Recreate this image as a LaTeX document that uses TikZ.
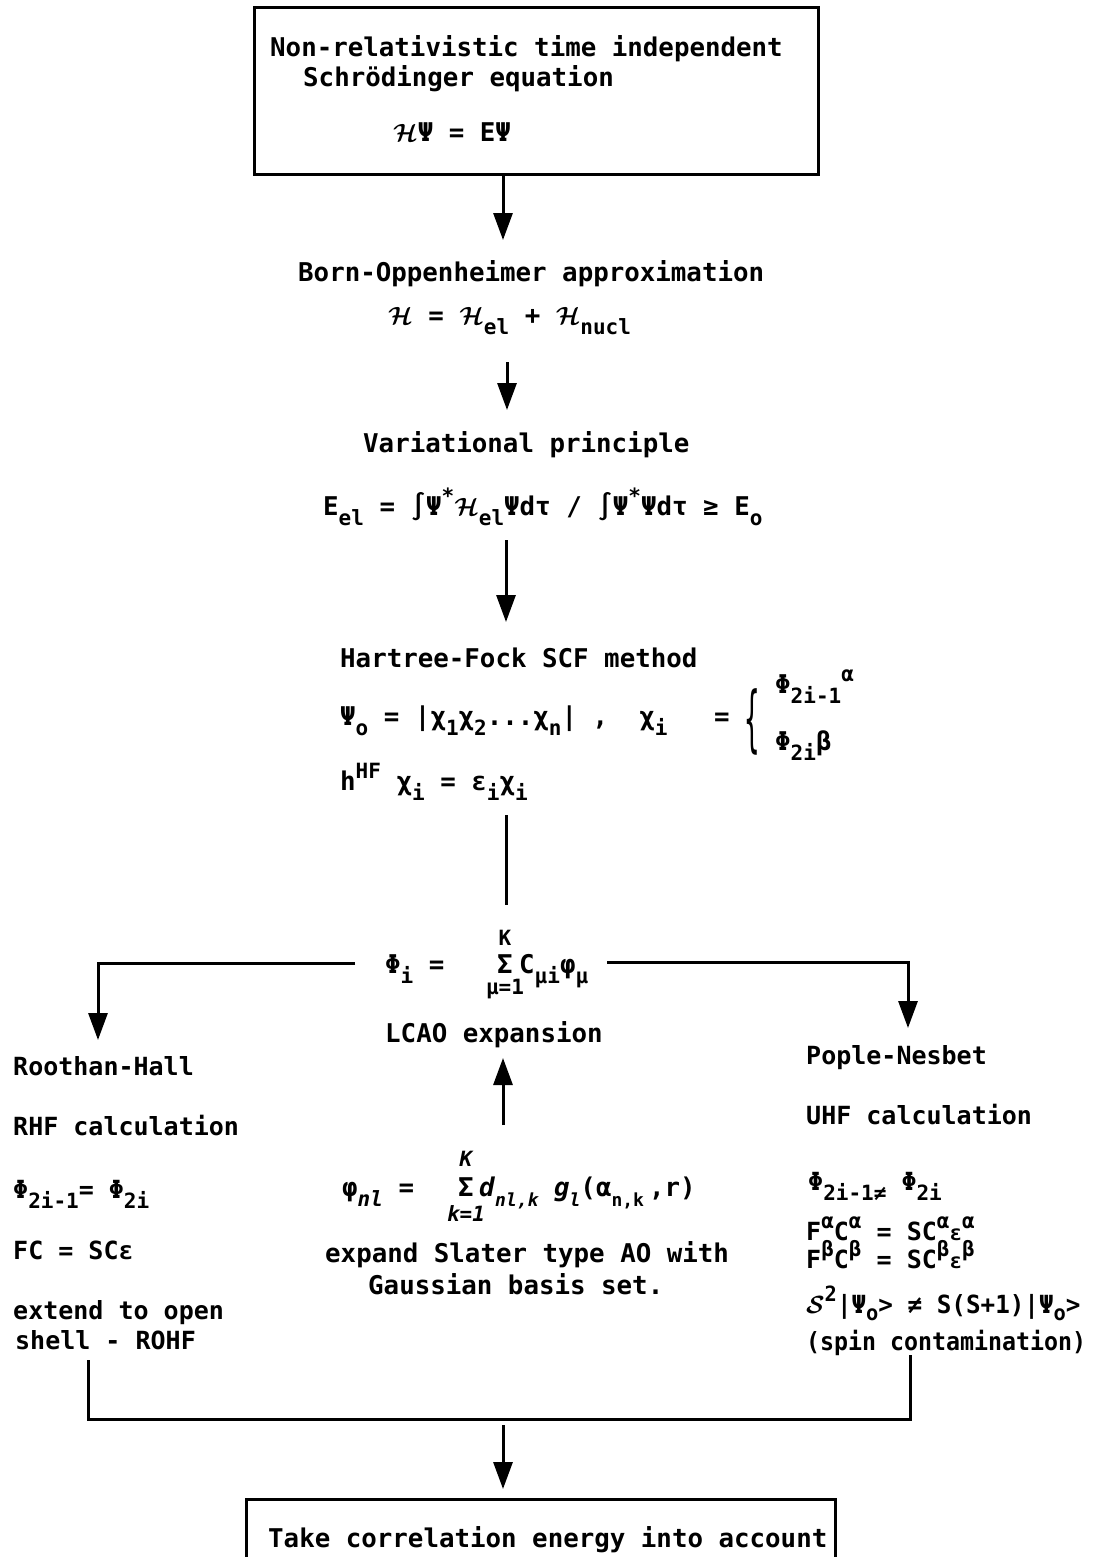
\documentclass[tikz,border=0pt]{standalone}
\usepackage{amsmath}
\usepackage{bm}
\usepackage{fontspec}
\setmainfont{DejaVu Sans Mono}
\usetikzlibrary{arrows.meta}
\newcommand{\HH}{\ensuremath{\bm{\mathcal{H}}}}
\newcommand{\SSp}{\ensuremath{\bm{\mathcal{S}}}}
\newcommand{\sbs}[1]{\raisebox{-0.42em}{\fontsize{21}{21}\selectfont #1}}
\newcommand{\sbt}[1]{\raisebox{-0.42em}{\fontsize{18}{18}\selectfont #1}}
\newcommand{\sbh}[1]{\raisebox{-0.28em}{\fontsize{21}{21}\selectfont #1}}
\newcommand{\sps}[1]{\raisebox{0.45em}{\fontsize{21}{21}\selectfont #1}}
\begin{document}
\begin{tikzpicture}[x=1pt,y=-1pt,
  txt/.style={font=\fontsize{25.8}{31}\selectfont\bfseries, inner sep=0pt, anchor=base west},
  side/.style={txt, font=\fontsize{25}{30}\selectfont\bfseries},
  ctr/.style={txt, anchor=base},
  small/.style={ctr, font=\fontsize{21}{21}\selectfont\bfseries},
  ln/.style={line width=3pt},
  arr/.style={line width=3pt, -{Triangle[length=27pt,width=19pt]}},
  box/.style={draw, line width=3pt, inner sep=0pt}]
\useasboundingbox (0,0) rectangle (1102,1557);

% top box
\node[box, minimum width=564pt, minimum height=167pt] (topbox) at (536,91.5) {};
\node[txt] (t1) at (270,57) {Non-relativistic time independent};
\node[txt] (t2) at (303,87) {Schrödinger equation};
\node[txt] (t3) at (393,142) {\HH Ψ = EΨ};

% Born-Oppenheimer
\node[txt] (bo1) at (298,281) {Born-Oppenheimer approximation};
\node[txt] (bo2) at (388,324) {\HH{} = \HH\sbs{el} + \HH\sbs{nucl}};

% variational
\node[txt] (va1) at (363,452) {Variational principle};
\node[txt] (va2) at (323,515) {E\sbs{el} = ∫Ψ\sps{*}\HH\sbs{el}Ψdτ / ∫Ψ\sps{*}Ψdτ ≥ E\sbs{o}};

% Hartree-Fock
\node[txt] (hf1) at (340,667) {Hartree-Fock SCF method};
\node[txt] (hf2) at (340,725) {Ψ\sbs{o} = |χ\sbs{1}χ\sbs{2}...χ\sbs{n}| , ~χ\sbs{i} ~ =};
\node[inner sep=0pt, font=\fontsize{25.8}{31}\selectfont] (brace) at (752,722) {\scalebox{1}[2.8]{\{}};
\node[txt] (phA) at (775,693) {Φ\sbs{2i-1}\sps{α}};
\node[txt] (phB) at (775,750) {Φ\sbs{2i}β};
\node[txt] (hf3) at (340,790) {h\sps{HF} χ\sbs{i} = ε\sbs{i}χ\sbs{i}};

% LCAO
\node[small] (lK) at (505,945) {K};
\node[txt] (lc1) at (385,973) {Φ\sbs{i} =};
\node[ctr] (lsig) at (505,973) {Σ};
\node[txt] (lc2) at (519,973) {C\sbs{μi}φ\sbs{μ}};
\node[small] (lmu) at (505,994) {μ=1};
\node[txt] (lc3) at (385,1042) {LCAO expansion};

% left column
\node[side] (rh1) at (13,1075) {Roothan-Hall};
\node[side] (rh2) at (13,1135) {RHF calculation};
\node[side] (rh3) at (13,1198) {Φ\sbs{2i-1}= Φ\sbs{2i}};
\node[side] (rh4) at (13,1259) {FC = SCε};
\node[side] (rh5) at (13,1319) {extend to open};
\node[side] (rh6) at (15,1349) {shell - ROHF};

% center basis set
\node[small] (gK) at (466,1166) {\itshape K};
\node[txt] (g1) at (342,1196) {φ\sbs{\itshape nl} =};
\node[ctr] (gsig) at (466,1196) {Σ};
\node[txt] (g2) at (479,1196) {\textit{d}\sbt{\itshape nl,k} \textit{g}\sbt{\itshape l}(α\sbt{n,k}\hspace{5pt},r)};
\node[small] (gk) at (466,1221) {\itshape k=1};
\node[txt] (g3) at (325,1262) {expand Slater type AO with};
\node[txt] (g4) at (368,1294) {Gaussian basis set.};

% right column
\node[side] (pn1) at (806,1064) {Pople-Nesbet};
\node[side] (pn2) at (806,1124) {UHF calculation};
\node[side] (pn3) at (808,1190) {Φ\sbs{2i-1≠} Φ\sbs{2i}};
\node[side] (pn4) at (806,1240) {F\sps{α}C\sps{α} = SC\sps{α}{\fontsize{21}{21}\selectfont ε}\sps{α}};
\node[side] (pn5) at (806,1268) {F\sps{β}C\sps{β} = SC\sps{β}{\fontsize{21}{21}\selectfont ε}\sps{β}};
\node[side] (pn6) at (806,1313) {\scalebox{0.97}[1]{\SSp\sps{2}|Ψ\sbh{o}> ≠ S(S+1)|Ψ\sbh{o}>}};
\node[side] (pn7) at (806,1350) {\scalebox{0.93}[1]{(spin contamination)}};

% bottom box
\node[txt] (bt) at (268,1547) {Take correlation energy into account};
\coordinate (bbl) at (246,1557);
\coordinate (bbtr) at (835,1499);
\coordinate (bbr) at (835,1557);
\draw[ln] (bbl) |- (bbtr) -- (bbr);

% connectors
\coordinate (a1e) at (503,240);
\draw[arr] (a1e |- topbox.south) -- (a1e);
\coordinate (a2s) at (507,362); \coordinate (a2e) at (507,410);
\draw[arr] (a2s) -- (a2e);
\coordinate (a3s) at (506,540); \coordinate (a3e) at (506,622);
\draw[arr] (a3s) -- (a3e);
\coordinate (l4s) at (506,815); \coordinate (l4e) at (506,905);
\draw[ln] (l4s) -- (l4e);
\coordinate (hls) at (355,963); \coordinate (hlc) at (98,963); \coordinate (hle) at (98,1040);
\draw[arr] (hls) -- (hlc) -- (hle);
\coordinate (hrs) at (607,962); \coordinate (hrc) at (908,962); \coordinate (hre) at (908,1028);
\draw[arr] (hrs) -- (hrc) -- (hre);
\coordinate (ups) at (503,1125); \coordinate (upe) at (503,1058);
\draw[arr] (ups) -- (upe);
\coordinate (brl) at (88,1360); \coordinate (brlc) at (88,1419);
\coordinate (brrc) at (910,1419); \coordinate (brr) at (910,1355);
\draw[ln] (brl) -- (brlc) -- (brrc) -- (brr);
\coordinate (a5s) at (503,1425); \coordinate (a5e) at (503,1489);
\draw[arr] (a5s) -- (a5e);
\end{tikzpicture}
\end{document}
